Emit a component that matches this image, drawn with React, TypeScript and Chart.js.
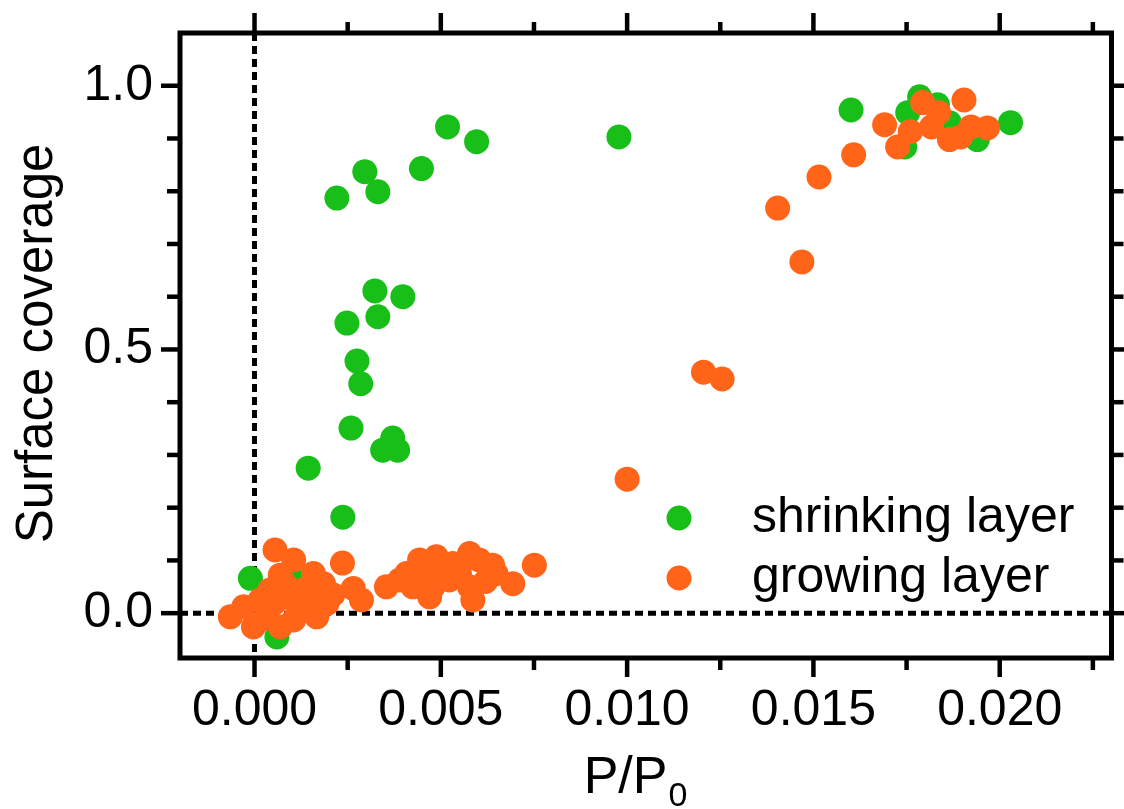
import React, { useEffect, useRef } from "react";
import { Chart, registerables } from "chart.js";

Chart.register(...registerables);

// ---------- data ----------
const seriesLabels = ["shrinking layer", "growing layer"];

const shrinkX = [
  -0.00011, 0.0006, 0.00117,
  0.00237, 0.00144, 0.00259, 0.00371, 0.00344, 0.00384, 0.00285, 0.00275, 0.00248, 0.00331, 0.00323, 0.00398,
  0.00221, 0.00296, 0.00331, 0.00448, 0.00518, 0.00596, 0.00978,
  0.01601, 0.01745, 0.01753, 0.01785, 0.01833, 0.01865, 0.0194, 0.02029,
];
const shrinkY = [
  0.066, -0.045, 0.059,
  0.182, 0.275, 0.351, 0.332, 0.309, 0.309, 0.435, 0.478, 0.55, 0.562, 0.611, 0.6,
  0.787, 0.837, 0.799, 0.843, 0.922, 0.894, 0.903,
  0.954, 0.884, 0.949, 0.979, 0.964, 0.93, 0.898, 0.93,
];

const growX = [
  0.00055, 0.00105, 0.00236, 0.00158, 0.00069, 0.00185, 0.00265, 0.00287, 0.00131, 0.00194, 0.00167, 0.00105,
  0.00051, -0.00003, -0.00065, -0.00029, 0.00015, 0.00069, 0.00122, 0.0014, 0.00087, 0.00042, 0.0003, 0.0009,
  0.0015, 0.0021,
  0.00354, 0.0039, 0.00408, 0.00425, 0.00443, 0.0047, 0.00479, 0.00488, 0.00523, 0.00532, 0.0055, 0.00577,
  0.00577, 0.00586, 0.00603, 0.00639, 0.00648, 0.00693, 0.00751, 0.0046, 0.005, 0.0062,
  0.01, 0.01205, 0.01255, 0.01469, 0.01404, 0.01515, 0.01608,
  0.01691, 0.01726, 0.0176, 0.01793, 0.01817, 0.01836, 0.01865, 0.01895, 0.01904, 0.01923, 0.01967,
];
const growY = [
  0.12, 0.101, 0.095, 0.075, 0.072, 0.056, 0.047, 0.025, 0.044, 0.018, -0.007, -0.013,
  0.018, -0.026, -0.007, 0.012, 0.025, -0.026, 0.006, 0.025, 0.05, 0.044, -0.01, 0.03,
  0.04, 0.035,
  0.05, 0.063, 0.075, 0.05, 0.101, 0.031, 0.05, 0.107, 0.063, 0.094, 0.075, 0.113,
  0.05, 0.025, 0.101, 0.091, 0.075, 0.056, 0.091, 0.085, 0.08, 0.06,
  0.254, 0.457, 0.444, 0.666, 0.768, 0.827, 0.869,
  0.926, 0.884, 0.913, 0.968, 0.922, 0.949, 0.898, 0.903, 0.973, 0.922, 0.92,
];

const xMajorTicks = [0, 0.005, 0.01, 0.015, 0.02];
const xMinorTicks = [0.0025, 0.0075, 0.0125, 0.0175, 0.0225];
const yMajorTicks = [0, 0.5, 1.0];
const yMinorTicks = [0.1, 0.2, 0.3, 0.4, 0.6, 0.7, 0.8, 0.9];

const xTitle = "P/P";
const xTitleSub = "0";
const yTitle = "Surface coverage";

// ---------- style ----------
const GREEN = "#18BF18";
const ORANGE = "#FF6418";
const FONT = "'Liberation Sans', Arial, Helvetica, sans-serif";
const W = 1124;
const H = 809;

const framePlugin = {
  id: "frameAndDecor",
  beforeDatasetsDraw(chart: any) {
    const { ctx, chartArea: a, scales } = chart;
    const x = scales.x;
    const y = scales.y;
    ctx.save();
    ctx.beginPath();
    ctx.rect(a.left, a.top, a.right - a.left, a.bottom - a.top);
    ctx.clip();
    ctx.strokeStyle = "#000";
    ctx.lineWidth = 5;
    ctx.setLineDash([8, 5]);
    const x0 = x.getPixelForValue(0);
    const y0 = y.getPixelForValue(0);
    ctx.beginPath();
    ctx.moveTo(x0, a.top);
    ctx.lineTo(x0, a.bottom);
    ctx.stroke();
    ctx.beginPath();
    ctx.moveTo(a.left, y0);
    ctx.lineTo(a.right, y0);
    ctx.stroke();
    ctx.restore();
  },
  afterDraw(chart: any) {
    const { ctx, chartArea: a, scales } = chart;
    const x = scales.x;
    const y = scales.y;
    ctx.save();
    ctx.strokeStyle = "#000";
    ctx.lineWidth = 5;
    ctx.lineJoin = "miter";
    ctx.setLineDash([]);
    ctx.strokeRect(a.left, a.top, a.right - a.left, a.bottom - a.top);

    ctx.lineWidth = 4.5;
    const line = (x1: number, y1: number, x2: number, y2: number) => {
      ctx.beginPath();
      ctx.moveTo(x1, y1);
      ctx.lineTo(x2, y2);
      ctx.stroke();
    };
    xMajorTicks.forEach((v) => {
      const p = x.getPixelForValue(v);
      line(p, a.bottom, p, a.bottom + 19);
      line(p, a.top, p, a.top - 20);
    });
    xMinorTicks.forEach((v) => {
      const p = x.getPixelForValue(v);
      line(p, a.bottom, p, a.bottom + 12);
      line(p, a.top, p, a.top - 11);
    });
    yMajorTicks.forEach((v) => {
      const p = y.getPixelForValue(v);
      line(a.left, p, a.left - 19, p);
      line(a.right, p, a.right + 14, p);
    });
    yMinorTicks.forEach((v) => {
      const p = y.getPixelForValue(v);
      line(a.left, p, a.left - 13, p);
      line(a.right, p, a.right + 12, p);
    });

    ctx.fillStyle = "#000";
    // y title
    ctx.save();
    ctx.translate(52, (a.top + a.bottom) / 2 - 2);
    ctx.rotate(-Math.PI / 2);
    ctx.font = `51px ${FONT}`;
    ctx.textAlign = "center";
    ctx.textBaseline = "alphabetic";
    ctx.fillText(yTitle, 0, 0);
    ctx.restore();

    // x title with subscript
    ctx.font = `52px ${FONT}`;
    const wMain = ctx.measureText(xTitle).width;
    ctx.font = `34px ${FONT}`;
    const wSub = ctx.measureText(xTitleSub).width;
    const cx = 635;
    const startX = cx - (wMain + wSub) / 2;
    ctx.textAlign = "left";
    ctx.textBaseline = "alphabetic";
    ctx.font = `52px ${FONT}`;
    ctx.fillText(xTitle, startX, 793);
    ctx.font = `34px ${FONT}`;
    ctx.fillText(xTitleSub, startX + wMain + 1, 806);

    // legend
    const colors = [GREEN, ORANGE];
    const rows = [518, 578];
    ctx.font = `50px ${FONT}`;
    ctx.textBaseline = "middle";
    seriesLabels.forEach((lab, i) => {
      ctx.fillStyle = colors[i];
      ctx.beginPath();
      ctx.arc(679, rows[i], 12.5, 0, Math.PI * 2);
      ctx.fill();
      ctx.fillStyle = "#000";
      ctx.fillText(lab, 752, rows[i]);
    });
    ctx.restore();
  },
};

export default function App() {
  const ref = useRef<HTMLCanvasElement | null>(null);

  useEffect(() => {
    if (!ref.current) return;
    Chart.defaults.font.family = FONT;
    const chart = new Chart(ref.current, {
      type: "scatter",
      data: {
        datasets: [
          {
            label: seriesLabels[0],
            data: shrinkX.map((v, i) => ({ x: v, y: shrinkY[i] })),
            backgroundColor: GREEN,
            borderWidth: 0,
            pointRadius: 12.5,
            pointHoverRadius: 12.5,
            order: 2,
          },
          {
            label: seriesLabels[1],
            data: growX.map((v, i) => ({ x: v, y: growY[i] })),
            backgroundColor: ORANGE,
            borderWidth: 0,
            pointRadius: 12.5,
            pointHoverRadius: 12.5,
            order: 1,
          },
        ],
      },
      options: {
        animation: false,
        responsive: false,
        maintainAspectRatio: false,
        devicePixelRatio: 1,
        layout: { padding: { top: 33, right: 9, left: 0, bottom: 0 } },
        plugins: {
          legend: { display: false },
          tooltip: { enabled: false },
        },
        scales: {
          x: {
            type: "linear",
            position: "bottom",
            min: -0.002,
            max: 0.023,
            grid: { display: false, drawTicks: true, tickLength: 23 },
            border: { display: false },
            afterBuildTicks: (s: any) => {
              s.ticks = xMajorTicks.map((v) => ({ value: v }));
            },
            afterFit: (s: any) => {
              s.height = 151;
            },
            ticks: {
              autoSkip: false,
              maxRotation: 0,
              padding: 0,
              color: "#000",
              font: { size: 50, family: FONT },
              callback: (v: any) => Number(v).toFixed(3),
            },
          },
          y: {
            type: "linear",
            position: "left",
            min: -0.085,
            max: 1.1,
            grid: { display: false, drawTicks: true, tickLength: 27 },
            border: { display: false },
            afterBuildTicks: (s: any) => {
              s.ticks = yMajorTicks.map((v) => ({ value: v }));
            },
            afterFit: (s: any) => {
              s.width = 180;
            },
            ticks: {
              autoSkip: false,
              padding: 0,
              color: "#000",
              font: { size: 50, family: FONT },
              callback: (v: any) => Number(v).toFixed(1),
            },
          },
        },
      },
      plugins: [framePlugin],
    });
    return () => chart.destroy();
  }, []);

  return (
    <div style={{ position: "absolute", left: 0, top: 0, width: W, height: H, background: "#fff" }}>
      <canvas ref={ref} width={W} height={H} style={{ display: "block", width: W, height: H }} />
    </div>
  );
}
